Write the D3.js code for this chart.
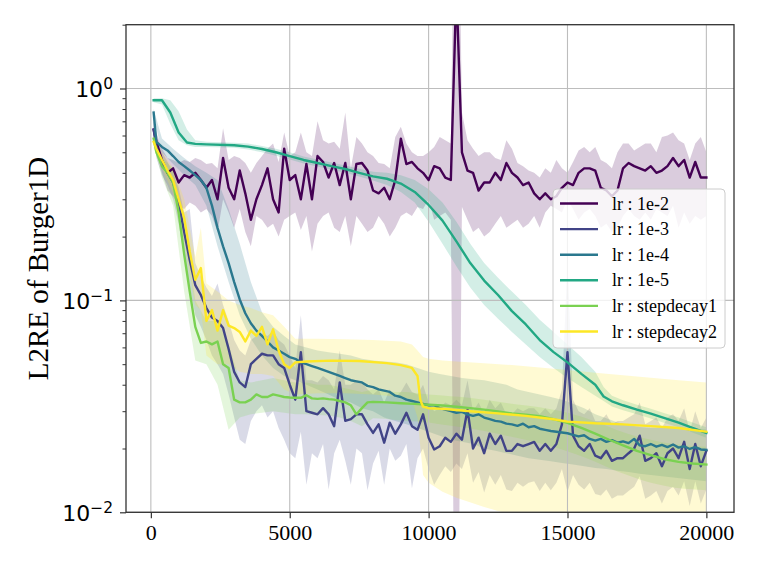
<!DOCTYPE html>
<html>
<head>
<meta charset="utf-8">
<script src="https://cdn.jsdelivr.net/npm/d3@7"></script>
<style>
  body { margin: 0; background: #ffffff; }
  .serif { font-family: "Liberation Serif", "Times New Roman", serif; }
  .sans  { font-family: "DejaVu Sans", sans-serif; }
</style>
</head>
<body>
<svg id="chart" width="761" height="571"></svg>
<script>
// ---------------------------  DATA  ---------------------------
// Training steps at which the noisy runs were logged (every 200 steps)
const STEPS = [100].concat(d3.range(200, 20001, 200));          // 101 points
// Coarser grid used for the smoother shaded bands
const BAND_STEPS = [100].concat(d3.range(400, 20001, 400));     // 51 points

const X_TICKS = [0, 5000, 10000, 15000, 20000];
const Y_TICKS = [0.01, 0.1, 1];
const Y_TICK_EXP = ["\u22122", "\u22121", "0"];

// lr : 1e-2  (mean, lower and upper edge of the band), on STEPS
const lr1e2 = [
  0.64, 0.56, 0.46, 0.40, 0.42, 0.36, 0.39, 0.38, 0.40, 0.37,
  0.34, 0.37, 0.30, 0.47, 0.34, 0.30, 0.41, 0.32, 0.24, 0.30,
  0.35, 0.42, 0.30, 0.26, 0.52, 0.37, 0.39, 0.30, 0.44, 0.30,
  0.48, 0.45, 0.38, 0.445, 0.35, 0.445, 0.30, 0.44, 0.445, 0.41,
  0.33, 0.32, 0.34, 0.30, 0.37, 0.58, 0.44, 0.45, 0.42, 0.40,
  0.37, 0.43, 0.42, 0.38, 0.37, 3.0, 0.50, 0.41, 0.40, 0.33,
  0.36, 0.36, 0.40, 0.37, 0.445, 0.40, 0.38, 0.35, 0.36, 0.32,
  0.30, 0.32, 0.30, 0.31, 0.34, 0.36, 0.35, 0.40, 0.42, 0.42,
  0.41, 0.34, 0.33, 0.31, 0.33, 0.42, 0.445, 0.43, 0.42, 0.41,
  0.43, 0.40, 0.41, 0.43, 0.47, 0.43, 0.46, 0.38, 0.45, 0.38,
  0.38
];
const lr1e2Lo = [
  0.58, 0.50, 0.40, 0.33, 0.31, 0.28, 0.27, 0.29, 0.28, 0.26,
  0.27, 0.25, 0.21, 0.30, 0.26, 0.22, 0.27, 0.21, 0.18, 0.25,
  0.24, 0.22, 0.23, 0.20, 0.24, 0.25, 0.26, 0.215, 0.25, 0.17,
  0.23, 0.25, 0.26, 0.22, 0.21, 0.25, 0.18, 0.25, 0.23, 0.21,
  0.22, 0.25, 0.23, 0.20, 0.22, 0.25, 0.26, 0.25, 0.276, 0.27,
  0.30, 0.24, 0.25, 0.26, 0.24, 0.0002, 0.276, 0.24, 0.21, 0.22,
  0.20, 0.21, 0.23, 0.25, 0.22, 0.23, 0.24, 0.22, 0.23, 0.25,
  0.22, 0.26, 0.28, 0.27, 0.26, 0.30, 0.27, 0.24, 0.26, 0.27,
  0.25, 0.22, 0.23, 0.21, 0.22, 0.25, 0.27, 0.25, 0.24, 0.26,
  0.24, 0.27, 0.26, 0.25, 0.28, 0.22, 0.26, 0.23, 0.25, 0.24,
  0.25
];
const lr1e2Hi = [
  0.70, 0.62, 0.52, 0.47, 0.46, 0.445, 0.46, 0.45, 0.47, 0.46,
  0.44, 0.445, 0.42, 0.65, 0.46, 0.48, 0.47, 0.445, 0.40, 0.445,
  0.48, 0.52, 0.55, 0.45, 0.62, 0.48, 0.50, 0.62, 0.50, 0.48,
  0.70, 0.57, 0.55, 0.56, 0.52, 0.77, 0.42, 0.59, 0.55, 0.50,
  0.48, 0.445, 0.44, 0.42, 0.59, 0.66, 0.55, 0.50, 0.48, 0.48,
  0.50, 0.53, 0.59, 0.57, 0.55, 50, 0.77, 0.57, 0.52, 0.48,
  0.50, 0.50, 0.47, 0.46, 0.57, 0.52, 0.445, 0.43, 0.41, 0.40,
  0.38, 0.42, 0.40, 0.46, 0.42, 0.40, 0.45, 0.51, 0.53, 0.50,
  0.53, 0.46, 0.445, 0.42, 0.50, 0.55, 0.55, 0.51, 0.53, 0.55,
  0.55, 0.50, 0.59, 0.60, 0.62, 0.57, 0.55, 0.46, 0.55, 0.59,
  0.50
];

// lr : 1e-3, on STEPS
const lr1e3 = [
  0.64, 0.53, 0.44, 0.40, 0.36, 0.29, 0.21, 0.155, 0.118, 0.106,
  0.092, 0.083, 0.080, 0.074, 0.059, 0.046, 0.041, 0.039, 0.050, 0.053,
  0.056, 0.055, 0.055, 0.050, 0.048, 0.040, 0.034, 0.057, 0.030, 0.0295,
  0.029, 0.031, 0.029, 0.0255, 0.041, 0.027, 0.0275, 0.029, 0.029, 0.026,
  0.0237, 0.026, 0.0213, 0.0265, 0.0235, 0.026, 0.0295, 0.0255, 0.0245, 0.029,
  0.0225, 0.0198, 0.0205, 0.0225, 0.0215, 0.0235, 0.022, 0.0305, 0.020, 0.0225,
  0.019, 0.0235, 0.021, 0.023, 0.0195, 0.0195, 0.021, 0.0205, 0.021, 0.0215,
  0.0195, 0.021, 0.0195, 0.021, 0.026, 0.057, 0.023, 0.0205, 0.0195, 0.021,
  0.0185, 0.018, 0.0195, 0.0175, 0.018, 0.018, 0.019, 0.020, 0.023, 0.0175,
  0.018, 0.019, 0.0165, 0.019, 0.020, 0.018, 0.0215, 0.016, 0.021, 0.0165,
  0.0195
];
const lr1e3Lo = [
  0.60, 0.47, 0.39, 0.35, 0.30, 0.23, 0.16, 0.115, 0.085, 0.075,
  0.065, 0.055, 0.050, 0.045, 0.036, 0.028, 0.022, 0.021, 0.027, 0.030,
  0.032, 0.028, 0.030, 0.025, 0.022, 0.019, 0.018, 0.024, 0.0135, 0.019,
  0.018, 0.021, 0.0128, 0.019, 0.022, 0.0175, 0.0135, 0.020, 0.019, 0.0127,
  0.017, 0.0195, 0.0135, 0.020, 0.0175, 0.0185, 0.021, 0.013, 0.018, 0.020,
  0.016, 0.0135, 0.015, 0.0165, 0.0155, 0.017, 0.016, 0.019, 0.0138, 0.0155,
  0.0124, 0.015, 0.0135, 0.015, 0.0128, 0.0126, 0.0138, 0.0132, 0.0138, 0.014,
  0.0126, 0.0138, 0.0127, 0.0138, 0.016, 0.0125, 0.015, 0.0135, 0.0128, 0.0138,
  0.0122, 0.012, 0.0128, 0.0116, 0.012, 0.012, 0.0126, 0.0132, 0.0148, 0.0116,
  0.012, 0.0126, 0.011, 0.0126, 0.0132, 0.012, 0.014, 0.0107, 0.014, 0.011,
  0.0128
];
const lr1e3Hi = [
  0.70, 0.60, 0.50, 0.45, 0.40, 0.34, 0.26, 0.27, 0.15, 0.13,
  0.115, 0.105, 0.12, 0.095, 0.080, 0.065, 0.058, 0.055, 0.065, 0.068,
  0.070, 0.068, 0.072, 0.065, 0.062, 0.055, 0.048, 0.085, 0.042, 0.042,
  0.041, 0.044, 0.042, 0.038, 0.058, 0.040, 0.040, 0.042, 0.041, 0.038,
  0.036, 0.038, 0.033, 0.038, 0.035, 0.037, 0.041, 0.037, 0.036, 0.040,
  0.033, 0.030, 0.031, 0.033, 0.032, 0.034, 0.032, 0.042, 0.030, 0.033,
  0.029, 0.034, 0.031, 0.033, 0.029, 0.029, 0.031, 0.030, 0.031, 0.031,
  0.029, 0.031, 0.029, 0.031, 0.038, 0.15, 0.034, 0.030, 0.029, 0.031,
  0.027, 0.027, 0.029, 0.026, 0.027, 0.027, 0.028, 0.029, 0.033, 0.026,
  0.027, 0.028, 0.025, 0.028, 0.029, 0.027, 0.031, 0.024, 0.030, 0.025,
  0.028
];

// lr : 1e-4, mean on STEPS, band on BAND_STEPS
const lr1e4 = [
  0.77, 0.56, 0.53, 0.51, 0.48, 0.45, 0.43, 0.41, 0.39, 0.37,
  0.34, 0.28, 0.22, 0.18, 0.15, 0.122, 0.101, 0.087, 0.078, 0.072,
  0.068, 0.064, 0.060, 0.058, 0.056, 0.054, 0.053, 0.051, 0.050, 0.049,
  0.048, 0.047, 0.046, 0.045, 0.044, 0.043, 0.042, 0.0415, 0.041, 0.0395,
  0.039, 0.038, 0.0375, 0.037, 0.0355, 0.035, 0.034, 0.0335, 0.033, 0.0325,
  0.032, 0.032, 0.031, 0.0305, 0.030, 0.0295, 0.0298, 0.029, 0.0285, 0.029,
  0.028, 0.0275, 0.027, 0.0268, 0.0262, 0.026, 0.0256, 0.0262, 0.0252, 0.0255,
  0.0248, 0.0245, 0.0242, 0.024, 0.0238, 0.0236, 0.0232, 0.0228, 0.0231, 0.0222,
  0.0218, 0.0222, 0.0215, 0.0219, 0.0213, 0.0216, 0.0212, 0.0222, 0.0207, 0.0205,
  0.021, 0.0204, 0.0208, 0.0203, 0.0209, 0.0202, 0.0205, 0.0199, 0.0203, 0.0198,
  0.0197
];
const lr1e4Lo = [
  0.74, 0.50, 0.44, 0.39, 0.35, 0.28, 0.18, 0.122, 0.085, 0.066,
  0.055, 0.048, 0.044, 0.042, 0.040, 0.038, 0.036, 0.034, 0.033, 0.031,
  0.030, 0.028, 0.027, 0.026, 0.025, 0.024, 0.023, 0.022, 0.0215, 0.021,
  0.020, 0.0195, 0.019, 0.0185, 0.018, 0.0177, 0.0174, 0.0171, 0.0168, 0.0165,
  0.0162, 0.016, 0.0157, 0.0155, 0.0152, 0.015, 0.0148, 0.0146, 0.0144, 0.0142,
  0.014
];
const lr1e4Hi = [
  0.80, 0.58, 0.52, 0.47, 0.43, 0.40, 0.37, 0.27, 0.185, 0.122,
  0.088, 0.075, 0.068, 0.062, 0.060, 0.058, 0.057, 0.056, 0.055, 0.053,
  0.052, 0.0515, 0.051, 0.050, 0.048, 0.046, 0.045, 0.044, 0.043, 0.0425,
  0.042, 0.041, 0.040, 0.038, 0.037, 0.036, 0.035, 0.034, 0.0325, 0.031,
  0.029, 0.0278, 0.0265, 0.0258, 0.0253, 0.025, 0.025, 0.025, 0.025, 0.0248,
  0.0246
];

// lr : 1e-5 (smooth run, own grid)
const lr1e5Steps = [
  100, 400, 700, 1000, 1300, 1600, 2000, 3000, 3500, 4000,
  4500, 5000, 5500, 6000, 6500, 7000, 7500, 8000, 8500, 9000,
  9500, 10000, 10500, 11000, 11500, 12000, 12500, 13000, 13500, 14000,
  14500, 15000, 15500, 16000, 16300, 16600, 17000, 17500, 18000, 18500,
  19000, 19500, 20000
];
const lr1e5 = [
  0.88, 0.88, 0.77, 0.62, 0.556, 0.548, 0.545, 0.54, 0.532, 0.518,
  0.50, 0.48, 0.46, 0.445, 0.43, 0.417, 0.40, 0.385, 0.375, 0.356,
  0.325, 0.282, 0.238, 0.19, 0.15, 0.124, 0.106, 0.089, 0.077, 0.065,
  0.057, 0.051, 0.045, 0.040, 0.0352, 0.0334, 0.032, 0.0305, 0.0292, 0.0278,
  0.0265, 0.025, 0.0237
];
const lr1e5Lo = [
  0.86, 0.84, 0.68, 0.57, 0.54, 0.53, 0.53, 0.525, 0.515, 0.50,
  0.482, 0.462, 0.443, 0.428, 0.414, 0.40, 0.384, 0.368, 0.35, 0.325,
  0.29, 0.235, 0.185, 0.145, 0.115, 0.095, 0.082, 0.071, 0.062, 0.054,
  0.048, 0.043, 0.039, 0.0355, 0.0335, 0.0316, 0.0303, 0.029, 0.0277, 0.0264,
  0.0252, 0.0238, 0.0225
];
const lr1e5Hi = [
  0.90, 0.90, 0.88, 0.78, 0.64, 0.57, 0.56, 0.555, 0.55, 0.535,
  0.52, 0.50, 0.478, 0.462, 0.447, 0.433, 0.418, 0.405, 0.40, 0.39,
  0.37, 0.335, 0.29, 0.235, 0.185, 0.15, 0.128, 0.11, 0.095, 0.081,
  0.071, 0.062, 0.054, 0.046, 0.039, 0.0355, 0.0338, 0.0322, 0.0308, 0.0293,
  0.028, 0.0265, 0.0252
];

// lr : stepdecay1 (noisy until ~8000, smooth afterwards)
const sd1Steps = [100].concat(d3.range(200, 8001, 200), d3.range(8500, 20001, 500));
const sd1 = [
  0.58, 0.50, 0.43, 0.40, 0.36, 0.26, 0.165, 0.11, 0.075, 0.063,
  0.064, 0.062, 0.064, 0.050, 0.048, 0.034, 0.033, 0.033, 0.034, 0.036,
  0.035, 0.035, 0.036, 0.0355, 0.035, 0.0348, 0.0347, 0.0347, 0.0357, 0.0345,
  0.0343, 0.0345, 0.0342, 0.034, 0.0335, 0.033, 0.032, 0.029, 0.031, 0.033,
  0.0332,
  0.0330, 0.0327, 0.0325, 0.0322, 0.0319, 0.0315, 0.0310, 0.0305, 0.0299, 0.0293, 0.0289, 0.0284,
  0.0275, 0.0264, 0.0250, 0.0235, 0.0220, 0.0207, 0.0195, 0.0186, 0.0178, 0.0173, 0.0170, 0.0168
];
const sd1Lo = [
  0.54, 0.38, 0.28, 0.11, 0.052, 0.050, 0.040, 0.0245, 0.028, 0.029,
  0.0295, 0.030, 0.0295, 0.029, 0.029, 0.0288, 0.0286, 0.028, 0.027, 0.0255,
  0.0278, 0.0276, 0.0273, 0.027, 0.0268, 0.0265, 0.026, 0.0256, 0.0252, 0.0247,
  0.0242, 0.0236, 0.023, 0.0224, 0.0218, 0.0212, 0.0205, 0.0198, 0.019, 0.0182,
  0.0173, 0.0164, 0.0156, 0.0149, 0.0143, 0.0138, 0.0134, 0.0131, 0.0129, 0.0128,
  0.0127
];
const sd1Hi = [
  0.62, 0.47, 0.42, 0.24, 0.10, 0.080, 0.080, 0.062, 0.042, 0.041,
  0.042, 0.043, 0.042, 0.041, 0.041, 0.040, 0.040, 0.039, 0.038, 0.037,
  0.038, 0.0375, 0.037, 0.037, 0.0365, 0.036, 0.0357, 0.0353, 0.035, 0.0345,
  0.034, 0.0334, 0.0328, 0.0323, 0.0318, 0.0313, 0.0306, 0.030, 0.029, 0.028,
  0.0268, 0.0256, 0.0244, 0.0234, 0.0226, 0.022, 0.0214, 0.021, 0.0207, 0.0205,
  0.0204
];

// lr : stepdecay2 (noisy until ~5000, then flat, step drop near 9700)
const sd2Steps = [
  100, 200, 400, 600, 800, 1000, 1200, 1400, 1600, 1800,
  2000, 2200, 2400, 2600, 2800, 3000, 3200, 3400, 3600, 3800,
  4000, 4200, 4400, 4600, 4800, 5000, 5200, 5600, 6500, 7500,
  8500, 9000, 9400, 9600, 9700, 9800, 10000, 10500, 11500, 12500,
  13500, 14500, 15000, 16000, 17000, 18000, 19000, 20000
];
const sd2 = [
  0.56, 0.52, 0.46, 0.41, 0.37, 0.30, 0.245, 0.17, 0.125, 0.142,
  0.080, 0.090, 0.072, 0.090, 0.076, 0.074, 0.071, 0.064, 0.072, 0.068,
  0.075, 0.062, 0.073, 0.058, 0.050, 0.048, 0.051, 0.0515, 0.052, 0.0518,
  0.0506, 0.0495, 0.048, 0.044, 0.034, 0.0315, 0.031, 0.0308, 0.030, 0.0293,
  0.0285, 0.0275, 0.0268, 0.0263, 0.026, 0.0255, 0.025, 0.024
];
const sd2BandSteps = [
  100, 400, 800, 1200, 1600, 1800, 2000, 2400, 2800, 3200,
  3600, 4000, 4400, 4800, 5200, 6000, 7000, 8000, 9000, 9400,
  9600, 9800, 10000, 10500, 11000, 12000, 13000, 14000, 15000, 16000,
  17000, 18000, 19000, 20000
];
const sd2Lo = [
  0.52, 0.42, 0.32, 0.19, 0.095, 0.090, 0.055, 0.050, 0.050, 0.046,
  0.045, 0.045, 0.044, 0.038, 0.036, 0.0365, 0.0365, 0.036, 0.035, 0.034,
  0.028, 0.015, 0.0138, 0.0125, 0.0117, 0.0106, 0.0097, 0.0088, 0.0080, 0.0073,
  0.0067, 0.0061, 0.0056, 0.0051
];
const sd2Hi = [
  0.60, 0.50, 0.42, 0.30, 0.16, 0.22, 0.12, 0.11, 0.10, 0.095,
  0.092, 0.088, 0.085, 0.075, 0.066, 0.066, 0.0655, 0.065, 0.064, 0.062,
  0.058, 0.054, 0.053, 0.052, 0.0515, 0.0505, 0.0495, 0.0482, 0.047, 0.0455,
  0.0443, 0.0432, 0.042, 0.041
];

const series = [
  {label: "lr : 1e-2",        color: "#440154", steps: STEPS,      mean: lr1e2, bandSteps: STEPS,        lo: lr1e2Lo, hi: lr1e2Hi},
  {label: "lr : 1e-3",        color: "#414487", steps: STEPS,      mean: lr1e3, bandSteps: STEPS,        lo: lr1e3Lo, hi: lr1e3Hi},
  {label: "lr : 1e-4",        color: "#2a788e", steps: STEPS,      mean: lr1e4, bandSteps: BAND_STEPS,   lo: lr1e4Lo, hi: lr1e4Hi},
  {label: "lr : 1e-5",        color: "#22a884", steps: lr1e5Steps, mean: lr1e5, bandSteps: lr1e5Steps,   lo: lr1e5Lo, hi: lr1e5Hi},
  {label: "lr : stepdecay1",  color: "#7ad151", steps: sd1Steps,   mean: sd1,   bandSteps: BAND_STEPS,   lo: sd1Lo,   hi: sd1Hi},
  {label: "lr : stepdecay2",  color: "#fde725", steps: sd2Steps,   mean: sd2,   bandSteps: sd2BandSteps, lo: sd2Lo,   hi: sd2Hi}
];

// ---------------------------  CHART  ---------------------------
const plot = {left: 126, top: 24.7, right: 734, bottom: 512.3};
const svg = d3.select("#chart");

const x = d3.scaleLinear().domain([-895, 20995]).range([plot.left, plot.right]);
const y = d3.scaleLog().domain([0.01, 2.0]).range([plot.bottom, plot.top]);

svg.append("defs").append("clipPath").attr("id", "plot-clip")
  .append("rect")
  .attr("x", plot.left).attr("y", plot.top)
  .attr("width", plot.right - plot.left).attr("height", plot.bottom - plot.top);

// shaded bands first (below the grid, like matplotlib collections)
const bandArea = d3.area()
  .x(d => x(d[0]))
  .y0(d => y(d[1]))
  .y1(d => y(d[2]));

const bands = svg.append("g").attr("clip-path", "url(#plot-clip)");
series.forEach(s => {
  const pts = s.bandSteps.map((st, i) => [st, s.lo[i], s.hi[i]]);
  bands.append("path")
    .attr("d", bandArea(pts))
    .attr("fill", s.color)
    .attr("fill-opacity", 0.2)
    .attr("stroke", "none");
});

// grid
const grid = svg.append("g").attr("stroke", "#bdbdbd").attr("stroke-width", 1.1);
X_TICKS.forEach(t => {
  grid.append("line").attr("x1", x(t)).attr("x2", x(t)).attr("y1", plot.top).attr("y2", plot.bottom);
});
Y_TICKS.forEach(t => {
  grid.append("line").attr("x1", plot.left).attr("x2", plot.right).attr("y1", y(t)).attr("y2", y(t));
});

// mean curves
const meanLine = d3.line()
  .x(d => x(d[0]))
  .y(d => y(d[1]));

const lines = svg.append("g").attr("clip-path", "url(#plot-clip)");
series.forEach(s => {
  const pts = s.steps.map((st, i) => [st, s.mean[i]]);
  lines.append("path")
    .attr("d", meanLine(pts))
    .attr("fill", "none")
    .attr("stroke", s.color)
    .attr("stroke-width", 2.4)
    .attr("stroke-linejoin", "round")
    .attr("stroke-linecap", "square");
});

// axes
const gx = svg.append("g")
  .attr("transform", `translate(0,${plot.bottom})`)
  .call(d3.axisBottom(x).tickValues(X_TICKS).tickSize(6).tickPadding(6).tickFormat(d3.format("d")));
gx.attr("font-size", null).attr("font-family", null);
gx.select(".domain").remove();
gx.selectAll(".tick line").attr("stroke", "#333").attr("stroke-width", 1.2);
gx.selectAll(".tick text").attr("class", "serif").style("font-size", "22px").attr("fill", "#000");

// minor log ticks: 2..9 x 10^k inside the domain
const yMinor = [];
[-2, -1, 0].forEach(k => d3.range(2, 10).forEach(m => {
  const v = m * Math.pow(10, k);
  if (v <= 2.0001) yMinor.push(v);
}));
const gyMinor = svg.append("g")
  .attr("transform", `translate(${plot.left},0)`)
  .call(d3.axisLeft(y).tickValues(yMinor).tickSize(3.5).tickFormat(() => ""));
gyMinor.select(".domain").remove();
gyMinor.selectAll(".tick line").attr("stroke", "#333").attr("stroke-width", 1);

const gy = svg.append("g")
  .attr("transform", `translate(${plot.left},0)`)
  .call(d3.axisLeft(y).tickValues(Y_TICKS).tickSize(6).tickPadding(7).tickFormat(() => ""));
gy.attr("font-size", null).attr("font-family", null);
gy.select(".domain").remove();
gy.selectAll(".tick line").attr("stroke", "#333").attr("stroke-width", 1.2);
gy.selectAll(".tick text").each(function(d, i) {
  const t = d3.select(this)
    .attr("class", "sans")
    .attr("dy", null)
    .attr("y", 8.5)
    .attr("fill", "#000")
    .style("font-size", "22px");
  t.append("tspan").text("10");
  t.append("tspan").attr("dy", -8.5).style("font-size", "15.5px").text(Y_TICK_EXP[i]);
});

// frame
svg.append("rect")
  .attr("x", plot.left).attr("y", plot.top)
  .attr("width", plot.right - plot.left).attr("height", plot.bottom - plot.top)
  .attr("fill", "none").attr("stroke", "#333").attr("stroke-width", 1.3);

// y label
svg.append("text")
  .attr("class", "serif")
  .attr("transform", `translate(48,${(plot.top + plot.bottom) / 2}) rotate(-90)`)
  .attr("text-anchor", "middle")
  .style("font-size", "29px")
  .attr("fill", "#000")
  .text("L2RE of Burger1D");

// legend
const legend = svg.append("g");
legend.append("rect")
  .attr("x", 553).attr("y", 189).attr("width", 172).attr("height", 159)
  .attr("rx", 4).attr("ry", 4)
  .attr("fill", "#ffffff").attr("fill-opacity", 0.8)
  .attr("stroke", "#cccccc").attr("stroke-width", 1);
series.forEach((s, i) => {
  const cy = 203.5 + i * 25.6;
  legend.append("line")
    .attr("x1", 560).attr("x2", 598).attr("y1", cy).attr("y2", cy)
    .attr("stroke", s.color).attr("stroke-width", 2.4);
  legend.append("text")
    .attr("class", "serif")
    .attr("x", 612).attr("y", cy + 6)
    .style("font-size", "18px")
    .attr("fill", "#000")
    .text(s.label);
});
</script>
</body>
</html>
